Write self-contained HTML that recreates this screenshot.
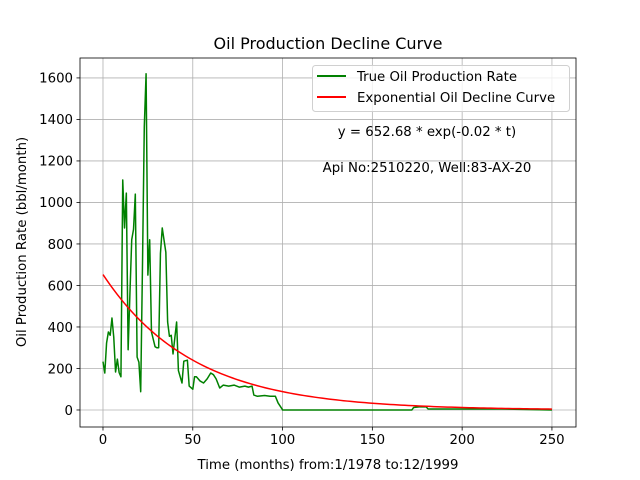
<!DOCTYPE html>
<html><head><meta charset="utf-8">
<style>
html,body{margin:0;padding:0;background:#fff;}
svg{display:block;font-family:"DejaVu Sans","Liberation Sans",sans-serif;}
</style></head>
<body>
<svg id="chart" width="640" height="480" viewBox="0 0 640 480">
</svg>
<script>
const months = [0,1,2,3,4,5,6,7,8,9,10,11,12,13,14,15,16,17,18,19,20,21,22,23,24,25,26,27,29,30,31,32,33,35,36,37,38,39,41,42,44,45,47,48,50,51,52,54,56,58,60,61.5,63,65,67,70,73,76,79,81,83,84,86,90,93,96,97.5,99.7,100,120,140,160,172,173,176,180,181,190,200,210,222,250];
const rates = [233,178,323,376,360,443,350,183,245,180,160,1108,877,1045,290,560,820,870,1040,255,230,88,700,1364,1620,650,820,376,305,300,300,755,877,760,424,355,360,270,424,190,130,235,240,115,100,160,160,140,130,150,178,170,150,106,120,115,120,110,115,110,115,72,66,70,66,66,34,5,0,0,0,0,0,12,15,15,5,5,5,5,5,0,0];
const fitA = 652.68;
const fitK = 0.02;
const xTicks = [0,50,100,150,200,250];
const yTicks = [0,200,400,600,800,1000,1200,1400,1600];

const L=80,R=576,T=58,B=427;
const X0=-12.8,X1=263.4,Y0=-82,Y1=1696;
const sx=v=>L+(v-X0)/(X1-X0)*(R-L);
const sy=v=>B-(v-Y0)/(Y1-Y0)*(B-T);
const svg=document.getElementById('chart');
const NS='http://www.w3.org/2000/svg';
function mk(tag,attrs,parent){const e=document.createElementNS(NS,tag);for(const k in attrs)e.setAttribute(k,attrs[k]);(parent||svg).appendChild(e);return e;}

// grid + ticks
xTicks.forEach(t=>{
  const x=sx(t);
  const g=mk('line',{x1:x,x2:x,y1:T,y2:B,stroke:'#b0b0b0','stroke-width':0.8});
  
  
  mk('line',{x1:x,x2:x,y1:B,y2:B+3.5,stroke:'#000','stroke-width':0.8});
  const tx=mk('text',{x:x,y:B+17,'text-anchor':'middle','font-size':13.3,fill:'#000'});
  tx.textContent=t;
  
  
});
yTicks.forEach(t=>{
  const y=sy(t);
  const g=mk('line',{x1:L,x2:R,y1:y,y2:y,stroke:'#b0b0b0','stroke-width':0.8});
  
  
  mk('line',{x1:L-3.5,x2:L,y1:y,y2:y,stroke:'#000','stroke-width':0.8});
  const tx=mk('text',{x:L-7,y:y+4.8,'text-anchor':'end','font-size':13.3,fill:'#000'});
  tx.textContent=t;
  
  
});

// series
const green=mk('polyline',{points:months.map((m,i)=>sx(m)+','+sy(rates[i])).join(' '),fill:'none',stroke:'#008000','stroke-width':1.5,'stroke-linejoin':'round'});


const fitPts=[];
for(let t=0;t<=250;t+=2){fitPts.push(sx(t)+','+sy(fitA*Math.exp(-fitK*t)));}
const red=mk('polyline',{points:fitPts.join(' '),fill:'none',stroke:'#ff0000','stroke-width':1.5});



// frame
const fr=mk('rect',{x:L,y:T,width:R-L,height:B-T,fill:'none',stroke:'#000','stroke-width':0.8});


</script>
<svg style="position:absolute;left:0;top:0" width="640" height="480">
  <text x="328" y="49" text-anchor="middle" font-size="16">Oil Production Decline Curve</text>
  <text x="328" y="469" text-anchor="middle" font-size="13.3">Time (months) from:1/1978 to:12/1999</text>
  <text transform="translate(26,242) rotate(-90)" text-anchor="middle" font-size="13.3">Oil Production Rate (bbl/month)</text>
  <g>
    <rect x="312.5" y="65.5" width="257" height="46" rx="3" fill="#fff" fill-opacity="0.8" stroke="#d0d0d0" stroke-width="1"/>
    <line x1="317" y1="76" x2="346" y2="76" stroke="#008000" stroke-width="2"/>
    <text x="357" y="81" font-size="13.3">True Oil Production Rate</text>
    <line x1="317" y1="97" x2="346" y2="97" stroke="#ff0000" stroke-width="2"/>
    <text x="357" y="102" font-size="13.3">Exponential Oil Decline Curve</text>
  </g>
  <text x="427" y="136" text-anchor="middle" font-size="13.3">y = 652.68 * exp(-0.02 * t)</text>
  <text x="427" y="172" text-anchor="middle" font-size="13.3">Api No:2510220, Well:83-AX-20</text>
</svg>
</body></html>
